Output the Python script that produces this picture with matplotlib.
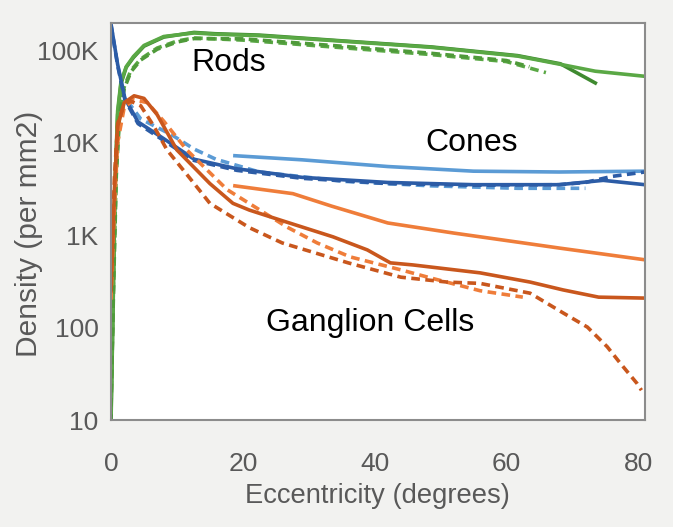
import matplotlib
matplotlib.use("Agg")
import matplotlib.pyplot as plt
from matplotlib.ticker import FixedLocator, FixedFormatter

plt.rcParams['font.family'] = ['Liberation Sans', 'DejaVu Sans']

# rods (green)
rod_a_x = [0, 0.3, 0.6, 1.0, 1.5, 2.3, 3.4, 5, 8, 12.6, 15.8, 22.5, 35.5, 48.6, 61.7, 68.2, 73.5]
rod_a_y = [10, 150, 3000, 20000, 43000, 65000, 83000, 110000, 138000, 155000, 150000, 145000, 125000, 108000, 87000, 71000, 44000]
rod_b_x = [0, 0.3, 0.6, 1.0, 1.5, 2.3, 3.4, 5, 8, 12.6, 15.8, 22.5, 35.5, 48.6, 61.7, 68.2, 73.5, 81]
rod_b_y = [12, 200, 3500, 22000, 45000, 66000, 85000, 112000, 140000, 153000, 148000, 143000, 124000, 107000, 86000, 70000, 59000, 52000]
rod_c_x = [0, 0.4, 0.8, 1.3, 2.0, 3.0, 4.5, 7, 10, 12.6, 20, 35, 48, 60, 66]
rod_c_y = [15, 400, 5000, 22000, 40000, 60000, 80000, 105000, 125000, 135000, 128000, 106000, 90000, 75000, 57000]
rod_d_x = [0, 0.4, 0.8, 1.3, 2.0, 3.0, 4.5, 7, 10, 12.6, 20, 35, 48, 60, 63.5]
rod_d_y = [14, 300, 4500, 20000, 38000, 58000, 78000, 102000, 122000, 133000, 132000, 110000, 93000, 77000, 66000]

# cones (blue)
cone_dk_x = [0, 1.0, 2.1, 4.1, 8.0, 12.6, 19.1, 29, 42, 55, 68, 74.7, 81]
cone_dk_y = [190000, 70000, 30000, 16700, 11000, 6600, 5200, 4200, 3700, 3500, 3500, 3900, 3500]
cone_dkd_x = [0, 1.0, 2.1, 4.1, 8.0, 12.6, 19.1, 29, 42, 55, 68, 72, 76, 81]
cone_dkd_y = [185000, 68000, 29000, 16000, 10500, 6400, 5000, 4100, 3600, 3450, 3500, 3700, 4300, 4800]
cone_lt_x = [18.8, 29, 42, 55, 68, 81]
cone_lt_y = [7200, 6500, 5500, 4900, 4800, 4900]
cone_ltd_x = [2.5, 4.5, 9.3, 12.6, 15.9, 22.5, 35.5, 48.6, 61.7, 72]
cone_ltd_y = [28000, 18000, 12000, 8500, 6600, 4800, 3800, 3400, 3200, 3200]

# ganglion cells (orange)
gc_dk_x = [0, 0.5, 1.0, 2.0, 3.5, 5.0, 7.0, 10, 15, 18.5, 21, 25.7, 33.7, 38.9, 42.4, 45.8, 56, 63.6, 68.6, 74, 81]
gc_dk_y = [250, 3000, 15000, 27000, 32000, 30000, 20000, 8300, 3600, 2200, 1860, 1450, 955, 690, 500, 475, 390, 310, 255, 213, 208]
gc_dkd_x = [0, 0.5, 1.0, 2.0, 3.0, 4.5, 6.5, 8.5, 11, 13.5, 15, 21, 26, 31, 36, 44, 51, 56, 63.6, 68.6, 72.3, 75.3, 77.3, 79.8, 80.5]
gc_dkd_y = [300, 4000, 16000, 26000, 28000, 25000, 15000, 8300, 5000, 3000, 2200, 1200, 820, 640, 500, 350, 310, 300, 235, 144, 101, 62, 41, 25, 21]
gc_ltd_x = [0, 0.5, 1.0, 2.0, 3.5, 5.5, 8, 11.5, 17.6, 22.6, 26.7, 31.3, 36.3, 44, 48.4, 56, 62.5]
gc_ltd_y = [200, 2000, 10000, 24000, 29000, 27000, 17000, 8300, 3100, 1860, 1220, 820, 580, 420, 345, 250, 213]
gc_lt_x = [18.8, 27.6, 33.5, 42, 52, 61.6, 68.2, 81]
gc_lt_y = [3400, 2800, 2050, 1350, 1050, 840, 720, 540]

y_ticks = [10, 100, 1000, 10000, 100000]
y_labels = ['10', '100', '1K', '10K', '100K']
x_ticks = [0, 20, 40, 60, 80]

green = '#4f9a3a'
green_dk = '#3f8a30'
green_lt = '#5aa845'
blue_dk = '#2c5ca6'
blue_lt = '#5b9bd5'
orange_dk = '#c9571d'
orange_lt = '#ef7d3a'
dash = (0, (2.4, 1.5))
lw = 2.6

fig = plt.figure(figsize=(6.73, 5.27), dpi=100, facecolor='#f2f2f0')
ax = fig.add_axes([0.165, 0.203, 0.793, 0.753])
ax.set_facecolor('white')

ax.plot(rod_a_x, rod_a_y, color=green_dk, lw=lw)
ax.plot(rod_b_x, rod_b_y, color=green_lt, lw=lw)
ax.plot(rod_c_x, rod_c_y, color=green_lt, lw=lw, ls=dash)
ax.plot(rod_d_x, rod_d_y, color=green, lw=lw, ls=dash)

ax.plot(cone_lt_x, cone_lt_y, color=blue_lt, lw=lw)
ax.plot(cone_ltd_x, cone_ltd_y, color=blue_lt, lw=lw, ls=dash)
ax.plot(cone_dkd_x, cone_dkd_y, color=blue_dk, lw=lw, ls=dash)
ax.plot(cone_dk_x, cone_dk_y, color=blue_dk, lw=lw)

ax.plot(gc_lt_x, gc_lt_y, color=orange_lt, lw=lw)
ax.plot(gc_ltd_x, gc_ltd_y, color=orange_lt, lw=lw, ls=dash)
ax.plot(gc_dkd_x, gc_dkd_y, color=orange_dk, lw=lw, ls=dash)
ax.plot(gc_dk_x, gc_dk_y, color=orange_dk, lw=lw)

ax.set_yscale('log')
ax.set_xlim(0, 81)
ax.set_ylim(10, 195000)
ax.yaxis.set_major_locator(FixedLocator(y_ticks))
ax.yaxis.set_major_formatter(FixedFormatter(y_labels))
ax.yaxis.set_minor_locator(FixedLocator([]))
ax.set_xticks(x_ticks)
ax.tick_params(length=0, labelsize=19, labelcolor='#595959')
ax.tick_params(axis='y', pad=9)
ax.tick_params(axis='x', pad=23)
for s in ax.spines.values():
    s.set_color('#8c8c8c')
    s.set_linewidth(1.5)

ax.set_xlabel('Eccentricity (degrees)', fontsize=19.7, color='#595959', labelpad=5)
ax.set_ylabel('Density (per mm2)', fontsize=21.5, color='#595959')
ax.yaxis.set_label_coords(-0.127, 0.47)

ax.text(17.8, 72000, 'Rods', fontsize=23, ha='center', va='center', color='black')
ax.text(54.8, 10000, 'Cones', fontsize=23, ha='center', va='center', color='black')
ax.text(39.3, 112, 'Ganglion Cells', fontsize=23, ha='center', va='center', color='black')

fig.savefig('out.png', dpi=100, facecolor=fig.get_facecolor())
